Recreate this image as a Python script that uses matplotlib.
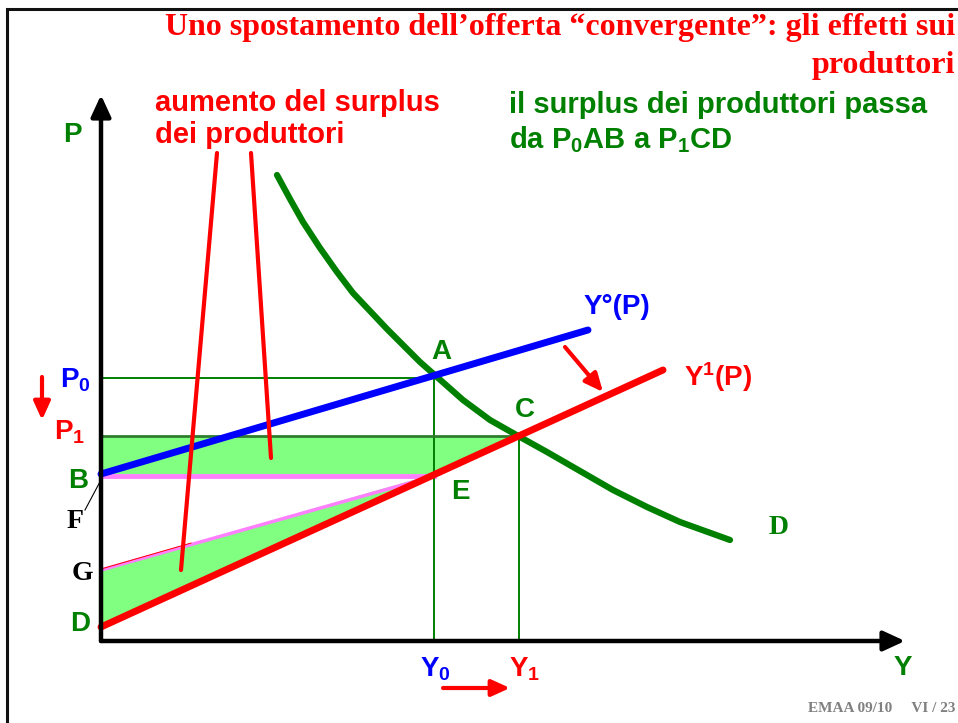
import matplotlib.pyplot as plt
from matplotlib.patches import FancyArrowPatch, Polygon, Rectangle

plt.rcParams['font.family'] = 'Liberation Sans'
plt.rcParams['mathtext.fontset'] = 'custom'
plt.rcParams['mathtext.rm'] = 'Liberation Sans:bold'
plt.rcParams['mathtext.default'] = 'rm'

# equilibrium values (quantity Y, price P)
Y0, Y1 = 33.3, 41.8
P0, P1 = 26.3, 20.5
P_B, P_G, P_D = 16.7, 7.1, 1.4

# supply curves Y°(P) and Y1(P)
supply_old_q = [0, 48.7]
supply_old_p = [16.7, 31.1]
supply_new_q = [0, 56.2]
supply_new_p = [1.4, 27.1]

# demand curve D
demand_q = [17.6, 18.9, 20.2, 21.9, 23.6, 25.2, 26.9, 28.6, 30.2, 31.9, 33.6,
            36.2, 38.9, 41.9, 44.6, 47.9, 51.2, 54.6, 57.9, 62.9]
demand_p = [46.6, 44.2, 41.9, 39.3, 36.9, 34.8, 33.0, 31.2, 29.6, 27.9, 26.4,
            24.1, 22.1, 20.4, 18.9, 17.0, 15.1, 13.4, 11.9, 10.1]

GREEN = '#008000'
LGREEN = '#80ff80'
PINK = '#ff80ff'
RED = '#ff0000'
BLUE = '#0000ff'

fig = plt.figure(figsize=(9.58, 7.23), dpi=100)
ax = fig.add_axes([0, 0, 1, 1])
ax.set_xlim(-10.1, 85.7)
ax.set_ylim(-8.2, 64.1)
ax.axis('off')

# slide frame
fig.patches.append(Rectangle((7 / 958, -0.05), 1.2, 1 - 9 / 723 + 0.05,
                             transform=fig.transFigure, fill=False,
                             lw=2.2, edgecolor='#111111'))

# shaded surplus areas
ax.add_patch(Polygon([(0, P1), (Y1, P1), (Y0, P_B), (0, P_B)],
                     closed=True, facecolor=LGREEN, edgecolor='none', zorder=1))
ax.add_patch(Polygon([(0, P_G), (Y0, P_B), (0, P_D)],
                     closed=True, facecolor=LGREEN, edgecolor='none', zorder=1))
ax.plot([0, Y0], [P_B - 0.2, P_B - 0.2], color=PINK, lw=3.5, zorder=2)
ax.plot([0, Y0], [P_G, P_B - 0.2], color=PINK, lw=2.5, zorder=2)
ax.plot([0, 9], [P_G + 0.1, P_G + 0.1 + (P_B - P_G) * 9 / Y0], color=RED, lw=0.7, zorder=2)

# guide lines
ax.plot([0, Y0, Y0], [P0, P0, 0], color=GREEN, lw=1.4, zorder=2)
ax.plot([Y1, Y1], [P1, 0], color=GREEN, lw=1.4, zorder=2)
ax.plot([0, Y1], [P1, P1], color='#2e7d2e', lw=2, zorder=2)

# curves
ax.plot(demand_q, demand_p, color=GREEN, lw=4.5, solid_capstyle='round',
        solid_joinstyle='round', zorder=3)
ax.plot(supply_old_q, supply_old_p, color=BLUE, lw=5, solid_capstyle='round', zorder=4)
ax.plot(supply_new_q, supply_new_p, color=RED, lw=5, solid_capstyle='round', zorder=4)

# axes with arrows
for end in [(80.4, 0), (0, 54.6)]:
    ax.add_patch(FancyArrowPatch((0, 0), end, arrowstyle='-|>,head_length=0.65,head_width=0.3',
                                 mutation_scale=20, lw=3.2, color='black',
                                 shrinkA=0, shrinkB=0, zorder=5))

# pointer lines from the note
ax.plot([11.6, 8.0], [48.8, 7.1], color=RED, lw=3, solid_capstyle='round', zorder=6)
ax.plot([15.0, 17.0], [48.8, 18.3], color=RED, lw=3, solid_capstyle='round', zorder=6)

# shift arrows
for start, end in [((46.4, 29.4), (50.2, 24.9)), ((-5.9, 26.4), (-5.9, 22.1)),
                   ((34.2, -4.7), (40.9, -4.7))]:
    ax.add_patch(FancyArrowPatch(start, end, arrowstyle='-|>,head_length=0.55,head_width=0.25',
                                 mutation_scale=20, lw=3, color=RED, shrinkA=0, shrinkB=0, zorder=6))

# F leader
ax.plot([-1.6, 0.1], [13.1, 16.3], color='black', lw=0.8)

sans = dict(fontsize=20, fontweight='bold', ha='center', va='center')
serif = dict(fontsize=20, fontweight='bold', ha='center', va='center', family='Liberation Serif')
ax.text(-2.9, 50.6, 'P', color=GREEN, **sans)
ax.text(80.2, -2.7, 'Y', color=GREEN, **sans)
ax.text(-2.6, 26.1, 'P$_0$', color=BLUE, **sans)
ax.text(-3.1, 20.9, 'P$_1$', color=RED, **sans)
ax.text(-2.3, 16.0, 'B', color=GREEN, **sans)
ax.text(-2.6, 12.0, 'F', color='black', **serif)
ax.text(-1.9, 6.8, 'G', color='black', **serif)
ax.text(-2.1, 1.7, 'D', color=GREEN, **sans)
ax.text(34.0, 28.9, 'A', color=GREEN, **sans)
ax.text(42.4, 23.1, 'C', color=GREEN, **sans)
ax.text(35.9, 14.9, 'E', color=GREEN, **sans)
ax.text(67.8, 11.3, 'D', color=GREEN, **serif)
ax.text(51.6, 33.4, 'Y°(P)', color=BLUE, **sans)
ax.text(61.7, 26.4, 'Y$^1$(P)', color=RED, **sans)
ax.text(33.4, -2.8, 'Y$_0$', color=BLUE, **sans)
ax.text(42.4, -2.8, 'Y$_1$', color=RED, **sans)

ax.text(5.4, 52.2, 'aumento del surplus\ndei produttori', color=RED, fontsize=21,
        fontweight='bold', ha='left', va='center', linespacing=1.15)
ax.text(40.8, 51.8, 'il surplus dei produttori passa\nda P$_0$AB a P$_1$CD', color=GREEN,
        fontsize=21, fontweight='bold', ha='left', va='center', linespacing=1.2)

fig.text(955 / 958, 1 - 27 / 723, 'Uno spostamento dell\u2019offerta \u201cconvergente\u201d: gli effetti sui',
         color=RED, fontsize=23, fontweight='bold', family='Liberation Serif', ha='right', va='center')
fig.text(955 / 958, 1 - 65 / 723, 'produttori', color=RED, fontsize=23, fontweight='bold',
         family='Liberation Serif', ha='right', va='center')
fig.text(955 / 958, 1 - 708 / 723, 'EMAA 09/10     VI / 23', color='#808080', fontsize=11,
         fontweight='bold', family='Liberation Serif', ha='right', va='center')

fig.savefig('out.png', dpi=100)
